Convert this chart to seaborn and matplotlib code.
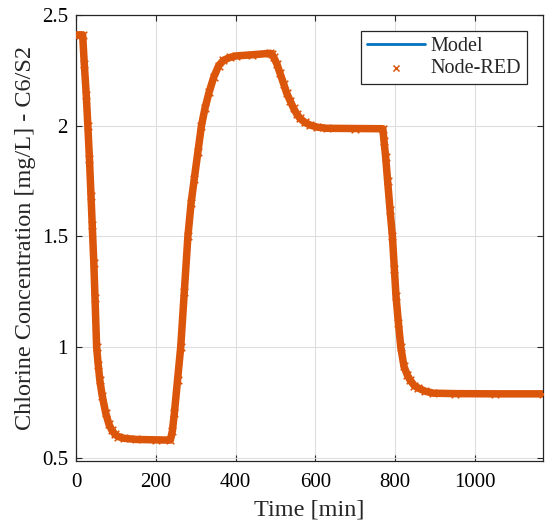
import numpy as np
import pandas as pd
import matplotlib
matplotlib.use('Agg')
import matplotlib.pyplot as plt
from matplotlib.ticker import FuncFormatter
import seaborn as sns

# values (time in min, chlorine in mg/L)
time_min = [0, 5, 10, 16, 20, 25, 29, 33, 37, 40, 44, 47, 51, 55, 59, 65, 74, 82, 89, 97,
            105, 120, 150, 200, 236, 241, 246, 254, 262, 271, 280, 288, 296, 305, 314, 323,
            333, 345, 357, 369, 385, 400, 440, 486, 490, 495, 503, 511, 520, 528, 537, 545,
            553, 561, 573, 586, 605, 628, 700, 769, 772, 776, 781, 787, 793, 798, 802, 808,
            814, 822, 830, 837, 848, 858, 875, 896, 950, 1050, 1170]
chlorine_model = [2.41, 2.41, 2.41, 2.41, 2.28, 2.14, 2.0, 1.85, 1.68, 1.55, 1.38, 1.22, 1.0,
                  0.92, 0.85, 0.78, 0.70, 0.65, 0.625, 0.605, 0.595, 0.587, 0.582, 0.580,
                  0.579, 0.62, 0.70, 0.85, 1.0, 1.25, 1.5, 1.65, 1.76, 1.88, 2.0, 2.08, 2.15,
                  2.22, 2.27, 2.295, 2.308, 2.315, 2.32, 2.327, 2.325, 2.31, 2.28, 2.237, 2.19,
                  2.146, 2.11, 2.079, 2.053, 2.033, 2.015, 2.003, 1.993, 1.988, 1.987, 1.986,
                  1.93, 1.86, 1.75, 1.62, 1.5, 1.35, 1.23, 1.11, 1.0, 0.912, 0.875, 0.851,
                  0.825, 0.814, 0.80, 0.791, 0.789, 0.788, 0.788]
# Node-RED output sits on top of the model curve
chlorine_nodered = list(chlorine_model)

x_ticks = [0, 200, 400, 600, 800, 1000]
y_ticks = [0.5, 1, 1.5, 2, 2.5]

sns.set_style('ticks')
plt.rcParams['font.family'] = ['Liberation Serif', 'DejaVu Serif']

df = pd.DataFrame({'t': time_min, 'model': chlorine_model, 'node': chlorine_nodered})

blue = '#0072BD'
orange = '#DB550A'

fig = plt.figure(figsize=(5.5, 5.3), dpi=100)
ax = fig.add_axes([0.1387, 0.1308, 0.848, 0.8409])

sns.lineplot(data=df, x='t', y='model', color=blue, linewidth=2, ax=ax, label='Model',
             zorder=3, sort=False)
sns.lineplot(data=df, x='t', y='node', color=orange, linewidth=5.4, ax=ax,
             label='_nolegend_', zorder=4, sort=False)
sns.scatterplot(data=df, x='t', y='node', color=orange, marker='x', s=30, linewidth=1.1,
                ax=ax, label='Node-RED', zorder=5)

ax.set_xlim(0, 1170)
ax.set_ylim(0.486, 2.5)
ax.set_xticks(x_ticks)
ax.set_yticks(y_ticks)
ax.yaxis.set_major_formatter(FuncFormatter(lambda v, p: '%g' % v))
ax.grid(True, color='#dedede', linewidth=0.8)
ax.set_axisbelow(True)

for s in ax.spines.values():
    s.set_visible(True)
    s.set_color('#262626')
    s.set_linewidth(0.9)
ax.tick_params(direction='in', top=True, right=True, length=4, width=0.8,
               labelsize=15, colors='#262626', labelcolor='black')
ax.tick_params(axis='x', pad=9)
ax.tick_params(axis='y', pad=6)

ax.set_xlabel('Time [min]', fontsize=17.5, labelpad=5)
ax.set_ylabel('Chlorine Concentration [mg/L] - C6/S2', fontsize=17.5, labelpad=4)

h, l = ax.get_legend_handles_labels()
leg = ax.legend(h, l, loc='upper right', fontsize=14.5, frameon=True, fancybox=False,
                edgecolor='#262626', framealpha=1, handlelength=2.9, handletextpad=0.25,
                borderpad=0.3, labelspacing=0.15, borderaxespad=0.8, markerscale=0.8)
leg.get_frame().set_linewidth(0.9)

plt.savefig('out.png', dpi=100)
